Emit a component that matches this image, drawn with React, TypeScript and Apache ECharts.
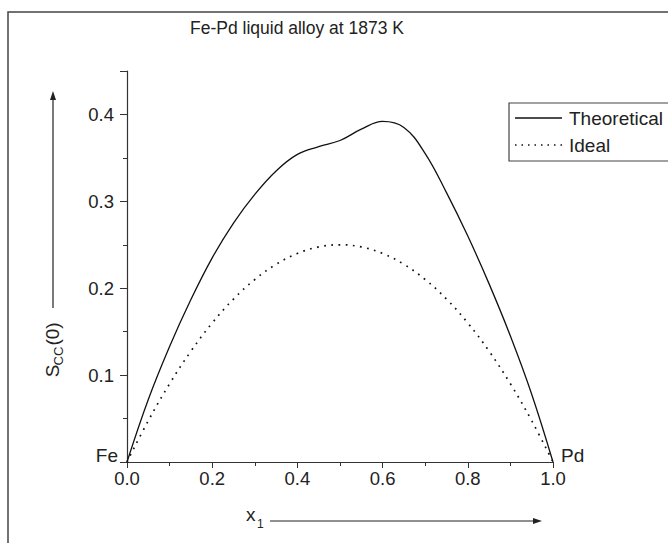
import React, { useEffect, useRef } from "react";
import * as echarts from "echarts";

const xValues = [0, 0.05, 0.1, 0.15, 0.2, 0.25, 0.3, 0.35, 0.4, 0.45, 0.5, 0.55, 0.6, 0.65, 0.7, 0.75, 0.8, 0.85, 0.9, 0.95, 1.0];
const theoretical = [0, 0.072, 0.133, 0.187, 0.235, 0.275, 0.308, 0.335, 0.354, 0.363, 0.37, 0.383, 0.392, 0.385, 0.355, 0.31, 0.26, 0.205, 0.145, 0.078, 0];
const ideal = [0, 0.0475, 0.09, 0.1275, 0.16, 0.1875, 0.21, 0.2275, 0.24, 0.2475, 0.25, 0.2475, 0.24, 0.2275, 0.21, 0.1875, 0.16, 0.1275, 0.09, 0.0475, 0];
const seriesNames = ["Theoretical", "Ideal"];
const titleText = "Fe-Pd liquid alloy at 1873 K";
const endLabels = ["Fe", "Pd"];

const FONT = "'Liberation Sans', Arial, Helvetica, sans-serif";
const INK = "#222";

export default function App() {
  const ref = useRef<HTMLDivElement>(null);
  useEffect(() => {
    if (!ref.current) return;
    const chart = echarts.init(ref.current, null, { renderer: "svg" });
    const pair = (ys: number[]) => xValues.map((x, i) => [x, ys[i]]);
    const legendRow = (i: number, y: number, dotted: boolean) => [
      {
        type: "line",
        shape: { x1: 515, y1: y, x2: 562, y2: y },
        style: dotted
          ? { stroke: "#111", lineWidth: 1.5, lineDash: [1.5, 5] }
          : { stroke: "#111", lineWidth: 1.3 },
      },
      {
        type: "text",
        x: 569,
        y: y,
        style: { text: seriesNames[i], font: `19px ${FONT}`, fill: INK, textAlign: "left", textVerticalAlign: "middle" },
      },
    ];
    chart.setOption({
      animation: false,
      backgroundColor: "#fff",
      title: {
        text: titleText,
        left: 185,
        top: 14,
        textStyle: { fontFamily: FONT, fontSize: 17.5, fontWeight: "normal", color: INK },
      },
      grid: { left: 127, right: 115, top: 71, bottom: 81 },
      xAxis: {
        type: "value",
        min: 0,
        max: 1,
        interval: 0.2,
        axisLine: { lineStyle: { color: "#333", width: 1.2 } },
        axisTick: { inside: false, length: 6, lineStyle: { color: "#333" } },
        minorTick: { show: true, splitNumber: 2, length: 4, lineStyle: { color: "#333" } },
        splitLine: { show: false },
        axisLabel: {
          fontFamily: FONT,
          fontSize: 18.5,
          color: INK,
          margin: 7,
          formatter: (v: number) => v.toFixed(1),
        },
      },
      yAxis: {
        type: "value",
        min: 0,
        max: 0.45,
        interval: 0.1,
        axisLine: { show: true, lineStyle: { color: "#333", width: 1.2 } },
        axisTick: { show: true, inside: false, length: 7, lineStyle: { color: "#333" } },
        minorTick: { show: true, splitNumber: 2, length: 4, lineStyle: { color: "#333" } },
        splitLine: { show: false },
        axisLabel: {
          fontFamily: FONT,
          fontSize: 18.5,
          color: INK,
          margin: 13,
          formatter: (v: number) => (v === 0 || v > 0.42 ? "" : v.toFixed(1)),
        },
      },
      series: [
        {
          name: seriesNames[0],
          type: "line",
          data: pair(theoretical),
          smooth: 0.4,
          showSymbol: false,
          symbol: "none",
          color: "#111",
          lineStyle: { color: "#111", width: 1.3 },
        },
        {
          name: seriesNames[1],
          type: "line",
          data: pair(ideal),
          smooth: 0.4,
          showSymbol: false,
          symbol: "none",
          color: "#111",
          lineStyle: { color: "#111", width: 1.7, type: [1.7, 5.5] },
        },
      ],
      graphic: [
        { type: "rect", shape: { x: 8, y: 12, width: 700, height: 620 }, style: { fill: "none", stroke: "#444", lineWidth: 1.5 }, silent: true },
        { type: "rect", shape: { x: 509, y: 103, width: 200, height: 58 }, style: { fill: "none", stroke: "#444", lineWidth: 1.2 }, silent: true },
        ...legendRow(0, 118, false),
        ...legendRow(1, 145, true),
        { type: "text", x: 118, y: 455, style: { text: endLabels[0], font: `19px ${FONT}`, fill: INK, textAlign: "right", textVerticalAlign: "middle" } },
        { type: "text", x: 561, y: 455, style: { text: endLabels[1], font: `19px ${FONT}`, fill: INK, textAlign: "left", textVerticalAlign: "middle" } },
        // x label
        { type: "text", x: 246, y: 514, style: { text: "x", font: `19px ${FONT}`, fill: INK, textAlign: "left", textVerticalAlign: "middle" } },
        { type: "text", x: 257, y: 524, style: { text: "1", font: `12px ${FONT}`, fill: INK, textAlign: "left", textVerticalAlign: "middle" } },
        { type: "line", shape: { x1: 270, y1: 521, x2: 535, y2: 521 }, style: { stroke: INK, lineWidth: 1.2 } },
        { type: "polygon", shape: { points: [[542, 521], [533, 518], [533, 524]] }, style: { fill: INK } },
        // y label
        { type: "text", x: 52, y: 371, rotation: Math.PI / 2, style: { text: "S", font: `19px ${FONT}`, fill: INK, textAlign: "center", textVerticalAlign: "middle" } },
        { type: "text", x: 58, y: 356, rotation: Math.PI / 2, style: { text: "CC", font: `13px ${FONT}`, fill: INK, textAlign: "center", textVerticalAlign: "middle" } },
        { type: "text", x: 52, y: 334, rotation: Math.PI / 2, style: { text: "(0)", font: `19px ${FONT}`, fill: INK, textAlign: "center", textVerticalAlign: "middle" } },
        { type: "line", shape: { x1: 53, y1: 308, x2: 53, y2: 98 }, style: { stroke: INK, lineWidth: 1.2 } },
        { type: "polygon", shape: { points: [[53, 91], [50, 100], [56, 100]] }, style: { fill: INK } },
      ],
    });
    return () => chart.dispose();
  }, []);
  return <div ref={ref} style={{ position: "fixed", left: 0, top: 0, width: 668, height: 543 }} />;
}
